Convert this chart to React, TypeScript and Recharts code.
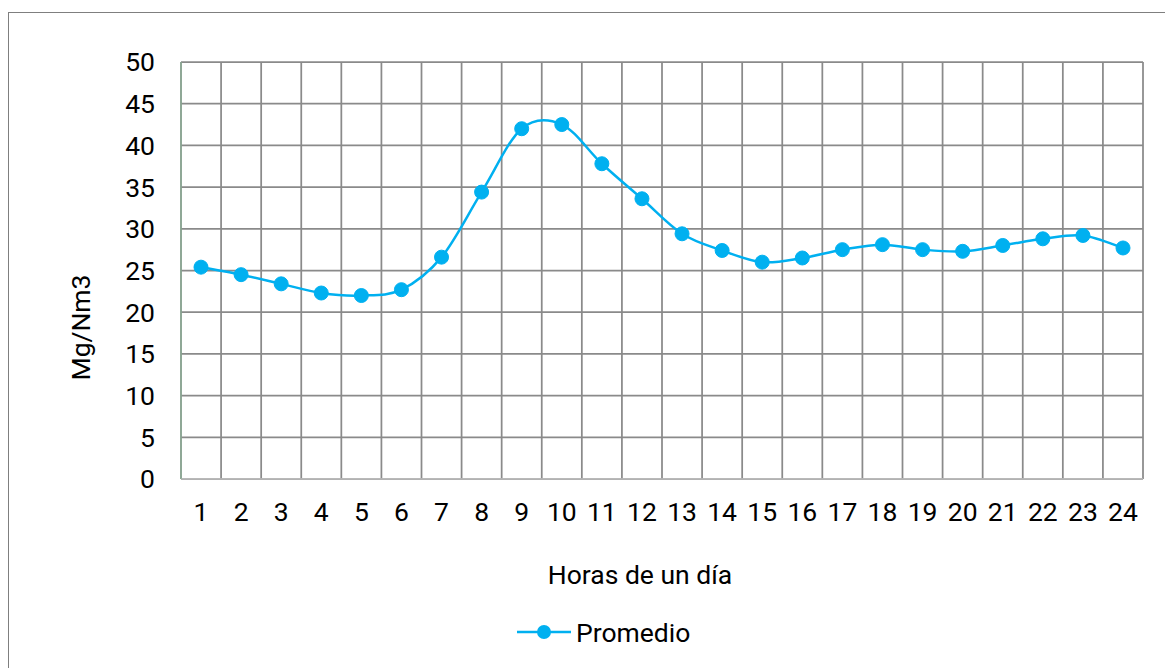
import { LineChart, Line, XAxis, YAxis, CartesianGrid, Legend } from 'recharts';

const hours = ['1', '2', '3', '4', '5', '6', '7', '8', '9', '10', '11', '12', '13', '14', '15', '16', '17', '18', '19', '20', '21', '22', '23', '24'];
const promedio = [25.4, 24.5, 23.4, 22.3, 22.0, 22.7, 26.6, 34.4, 42.0, 42.5, 37.8, 33.6, 29.4, 27.4, 26.0, 26.5, 27.5, 28.1, 27.5, 27.3, 28.0, 28.8, 29.2, 27.7];
const yTicks = [0, 5, 10, 15, 20, 25, 30, 35, 40, 45, 50];

const data = hours.map((h, i) => ({ hour: h, promedio: promedio[i] }));

const FONT = 'Roboto, "Noto Sans", sans-serif';
const FS = 26.5;
const BLUE = '#00b0f0';

// Excel-style smoothed line (Catmull-Rom as bezier, 1/6 handles)
const excelCurve = (context: any) => {
  let pts: number[][] = [];
  return {
    areaStart() {},
    areaEnd() {},
    lineStart() {
      pts = [];
    },
    point(x: number, y: number) {
      pts.push([+x, +y]);
    },
    lineEnd() {
      if (!pts.length) return;
      context.moveTo(pts[0][0], pts[0][1]);
      for (let i = 0; i < pts.length - 1; i++) {
        const p0 = pts[i - 1] || pts[i];
        const p1 = pts[i];
        const p2 = pts[i + 1];
        const p3 = pts[i + 2] || pts[i + 1];
        context.bezierCurveTo(
          p1[0] + (p2[0] - p0[0]) / 6,
          p1[1] + (p2[1] - p0[1]) / 6,
          p2[0] - (p3[0] - p1[0]) / 6,
          p2[1] - (p3[1] - p1[1]) / 6,
          p2[0],
          p2[1]
        );
      }
    },
  };
};

const YTitle = (props: any) => {
  const vb = props.viewBox;
  const x = vb.x + 71;
  const y = vb.y + vb.height / 2 + 57;
  return (
    <text x={x} y={y} transform={`rotate(-90 ${x} ${y})`} textAnchor="middle" dominantBaseline="central"
      fontFamily={FONT} fontSize={FS} fill="#000">
      Mg/Nm3
    </text>
  );
};

const XTitle = (props: any) => {
  const vb = props.viewBox;
  return (
    <text x={vb.x + vb.width / 2 - 22} y={vb.y + 95} textAnchor="middle" dominantBaseline="central"
      fontFamily={FONT} fontSize={FS} fill="#000">
      Horas de un día
    </text>
  );
};

const LegendContent = () => (
  <div style={{ display: 'flex', alignItems: 'center', fontFamily: FONT, fontSize: FS, color: '#000', height: 36 }}>
    <svg width={54} height={20} style={{ marginRight: 5 }}>
      <line x1={0} y1={10} x2={54} y2={10} stroke={BLUE} strokeWidth={2.5} />
      <circle cx={27} cy={10} r={7} fill={BLUE} />
    </svg>
    <span>Promedio</span>
  </div>
);

export default function App() {
  return (
    <div style={{ marginTop: 4, width: 1170, height: 660, border: '1px solid #7f7f7f', background: '#fff' }}>
      <LineChart width={1160} height={656} data={data} margin={{ top: 49, right: 26, left: 0, bottom: 19 }}>
        <CartesianGrid
          stroke="#8a8a8a"
          strokeWidth={1.75}
          verticalCoordinatesGenerator={({ offset }: any) =>
            hours.map((_, i) => offset.left + (i * offset.width) / hours.length).concat(offset.left + offset.width)
          }
        />
        <XAxis
          dataKey="hour"
          height={135}
          padding={{ left: 20, right: 20 }}
          tickSize={0}
          tickMargin={23}
          interval={0}
          stroke="#bfbfbf"
          strokeWidth={1.5}
          tick={{ fill: '#000', fontFamily: FONT, fontSize: FS }}
          label={<XTitle />}
        />
        <YAxis
          domain={[0, 50]}
          ticks={yTicks}
          width={172}
          tickSize={0}
          tickMargin={26}
          interval={0}
          stroke="#86b895"
          tick={{ fill: '#000', fontFamily: FONT, fontSize: FS }}
          label={<YTitle />}
        />
        <Legend verticalAlign="bottom" align="left" height={36} wrapperStyle={{ left: 508, width: 'auto' }} content={<LegendContent />} />
        <Line
          type={excelCurve as any}
          dataKey="promedio"
          stroke={BLUE}
          strokeWidth={2.5}
          dot={{ r: 7, fill: BLUE, stroke: BLUE, strokeWidth: 1 }}
          isAnimationActive={false}
        />
      </LineChart>
    </div>
  );
}
